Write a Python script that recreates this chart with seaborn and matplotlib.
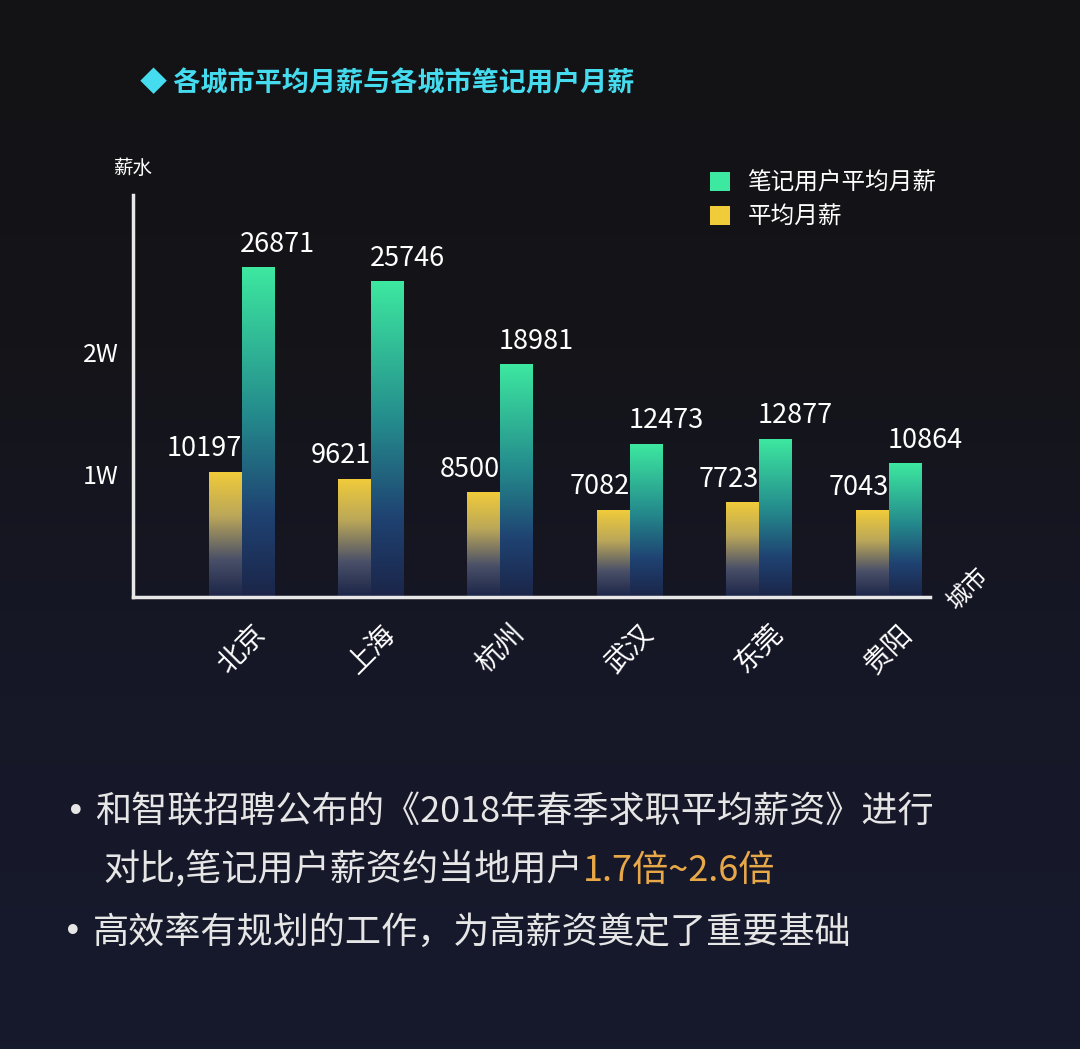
import numpy as np
import pandas as pd
import matplotlib
matplotlib.use("Agg")
import matplotlib.pyplot as plt
from matplotlib.colors import LinearSegmentedColormap
from matplotlib.patches import Patch
import seaborn as sns

# ---- data ----
cities = ["北京", "上海", "杭州", "武汉", "东莞", "贵阳"]
avg_salary = [10197, 9621, 8500, 7082, 7723, 7043]
note_user_salary = [26871, 25746, 18981, 12473, 12877, 10864]
series_names = ["平均月薪", "笔记用户平均月薪"]
y_ticks = [10000, 20000]
y_tick_labels = ["1W", "2W"]

sns.set_theme(style="white")
FONT = ["Noto Sans CJK SC", "DejaVu Sans"]
plt.rcParams["font.family"] = FONT
plt.rcParams["axes.unicode_minus"] = False

df = pd.DataFrame({
    "city": cities * 2,
    "series": [series_names[0]] * len(cities) + [series_names[1]] * len(cities),
    "value": avg_salary + note_user_salary,
})

fig = plt.figure(figsize=(10.8, 10.49), dpi=100)

# background gradient
bg = fig.add_axes([0, 0, 1, 1], zorder=-10)
bg_cmap = LinearSegmentedColormap.from_list("bg", ["#161a2d", "#161828", "#141419", "#131316"])
bg.imshow(np.linspace(0, 1, 256).reshape(-1, 1), cmap=bg_cmap, aspect="auto",
          extent=[0, 1, 0, 1], origin="lower")
bg.set_axis_off()

ax = fig.add_axes([133 / 1080, 1 - 597 / 1049, 797 / 1080, 402 / 1049])
ax.patch.set_alpha(0)

sns.barplot(data=df, x="city", y="value", hue="series", hue_order=series_names,
            palette=["#f0cb3a", "#3de8a0"], width=0.51, ax=ax, legend=False,
            saturation=1, errorbar=None)

cm_yellow = LinearSegmentedColormap.from_list(
    "y", [(0, "#1b2548"), (0.3, "#4a5068"), (0.65, "#bba759"), (1, "#f0cb3a")])
cm_green = LinearSegmentedColormap.from_list(
    "g", [(0, "#1b2548"), (0.25, "#1f4272"), (0.55, "#248a8c"), (1, "#3de8a0")])
grad = np.linspace(0, 1, 256).reshape(-1, 1)

for cont, cmap, side in zip(ax.containers, [cm_yellow, cm_green], ["right", "left"]):
    for bar in cont:
        x0, w, h = bar.get_x(), bar.get_width(), bar.get_height()
        ax.imshow(grad, cmap=cmap, aspect="auto", origin="lower",
                  extent=[x0, x0 + w, 0, h], zorder=2)
        bar.set_alpha(0)
        if side == "right":
            ax.annotate(f"{int(h)}", xy=(x0 + w, h), xytext=(0, 7), textcoords="offset points",
                        ha="right", va="bottom", color="white", fontsize=19.5)
        else:
            ax.annotate(f"{int(h)}", xy=(x0, h), xytext=(-1, 7), textcoords="offset points",
                        ha="left", va="bottom", color="white", fontsize=19.5)

ax.set_xlim(-0.84, 5.32)
ax.set_ylim(0, 32800)

for s in ["top", "right"]:
    ax.spines[s].set_visible(False)
for s in ["left", "bottom"]:
    ax.spines[s].set_color("#e8e8e8")
    ax.spines[s].set_linewidth(2.5)

ax.set_yticks(y_ticks)
ax.set_yticklabels(y_tick_labels, color="white", fontsize=18)
ax.tick_params(axis="y", length=0, pad=10)
ax.tick_params(axis="x", length=0, pad=16)
ax.set_xticks(range(len(cities)))
ax.set_xticklabels(cities, rotation=45, ha="center", va="top", color="white", fontsize=20)
ax.set_xlabel("")
ax.set_ylabel("")

ax.text(0.0, 1.065, "薪水", transform=ax.transAxes, color="white", fontsize=14,
        ha="center", va="center")
ax.text(1.047, 0.02, "城市", transform=ax.transAxes, color="white", fontsize=17,
        ha="center", va="center", rotation=45)

handles = [Patch(facecolor="#3de8a0", edgecolor="none"),
           Patch(facecolor="#f0cb3a", edgecolor="none")]
leg = ax.legend(handles, ["笔记用户平均月薪", "平均月薪"], loc="upper left",
                bbox_to_anchor=(0.697, 1.11), frameon=False, fontsize=17,
                handlelength=0.85, handleheight=0.85, handletextpad=0.75, labelspacing=0.45)
for t in leg.get_texts():
    t.set_color("white")

# title
fig.text(140 / 1080, 1 - 83 / 1049, "◆ 各城市平均月薪与各城市笔记用户月薪", color="#45dcef",
         fontsize=19.5, fontweight="bold", ha="left", va="center")

# bottom notes
txt_color = "#e6e6e6"
fig.text(76 / 1080, 1 - 812 / 1049, "•", color=txt_color, fontsize=24, ha="center",
         va="center", family="DejaVu Sans")
fig.text(95 / 1080, 1 - 812 / 1049, "和智联招聘公布的《2018年春季求职平均薪资》进行",
         color=txt_color, fontsize=26, ha="left", va="center")
t2 = fig.text(103 / 1080, 1 - 870 / 1049, "对比,笔记用户薪资约当地用户",
              color=txt_color, fontsize=26, ha="left", va="center")
plt.annotate("1.7倍~2.6倍", xy=(1, 0), xycoords=t2, ha="left", va="bottom",
             color="#e8a848", fontsize=26)
fig.text(73 / 1080, 1 - 933 / 1049, "•", color=txt_color, fontsize=24, ha="center",
         va="center", family="DejaVu Sans")
fig.text(93 / 1080, 1 - 933 / 1049, "高效率有规划的工作，为高薪资奠定了重要基础",
         color=txt_color, fontsize=26, ha="left", va="center")

fig.savefig("out.png", dpi=100)
